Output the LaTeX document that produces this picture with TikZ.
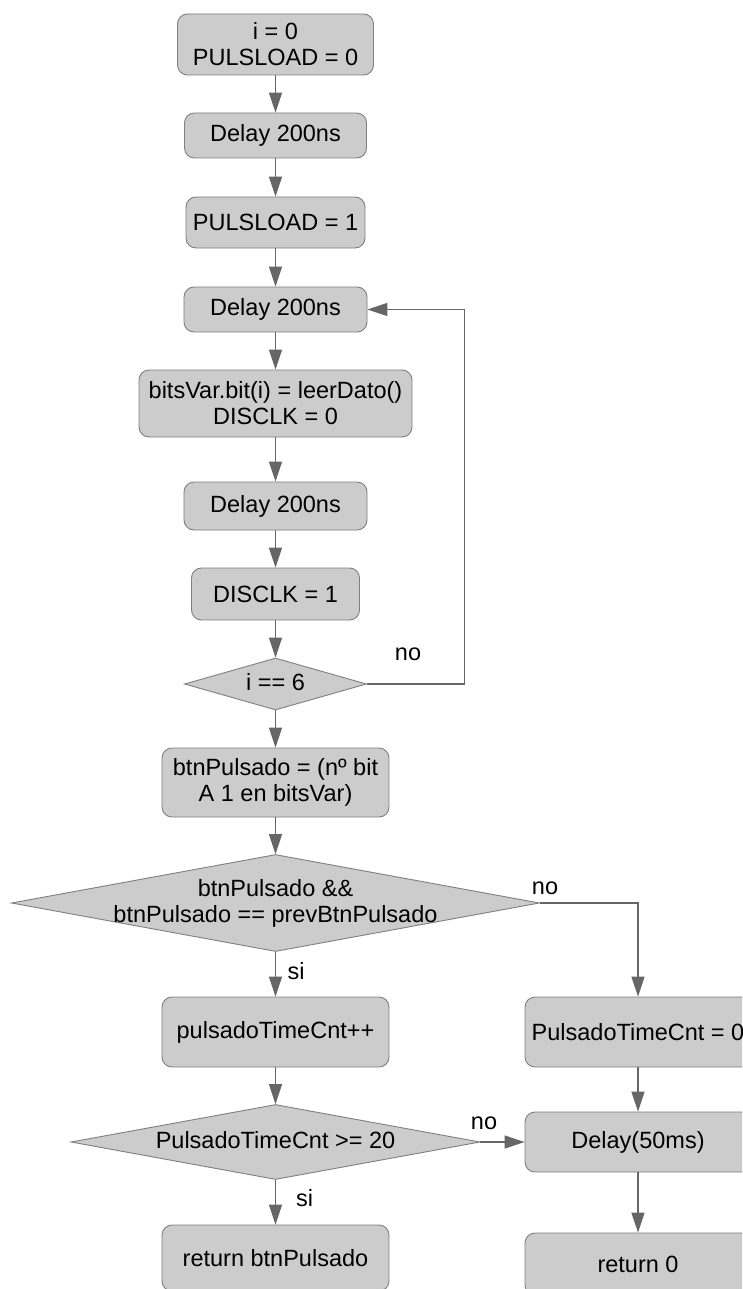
\documentclass[tikz,border=0pt]{standalone}
\usepackage{fontspec}
\setmainfont{Liberation Sans}
\usetikzlibrary{arrows.meta,shapes.geometric}
\definecolor{boxfill}{HTML}{CCCCCC}
\definecolor{boxline}{HTML}{7F7F7F}
\definecolor{flowline}{HTML}{666666}
% text that takes no room, so a diamond keeps the size it is given
\newcommand\centredtext[1]{\makebox[0pt]{\smash{\raisebox{-8pt}{\begin{tabular}{@{}c@{}}#1\end{tabular}}}}}
\begin{document}
\begin{tikzpicture}[x=1pt,y=-1pt,
  every node/.style={font=\fontsize{23.5}{26}\selectfont, text=black},
  proc/.style={draw=boxline, fill=boxfill, line width=0.9pt, rounded corners=10pt, align=center, inner sep=0pt},
  decision/.style={diamond, draw=boxline, fill=boxfill, line width=0.9pt, inner sep=0pt},
  flow/.style={draw=flowline, line width=1.2pt, -{Triangle[length=20pt,width=13pt]}},
  tag/.style={inner sep=0pt}
]
\clip (0,0) rectangle (742,1289);
\fill[white] (0,0) rectangle (742,1289);

% main column
\node[proc, minimum width=196pt, minimum height=61pt] (init) at (275.5,44.5) {i = 0\\PULSLOAD = 0};
\node[proc, minimum width=182pt, minimum height=45pt] (delay1) at (275.5,135.5) {Delay 200ns};
\node[proc, minimum width=179pt, minimum height=51pt] (load1) at (275.5,222.5) {PULSLOAD = 1};
\node[proc, minimum width=183pt, minimum height=45pt] (delay2) at (275.5,309.5) {Delay 200ns};
\node[proc, minimum width=273pt, minimum height=67pt] (read) at (275.5,403.5) {bitsVar.bit(i) = leerDato()\\DISCLK = 0};
\node[proc, minimum width=183pt, minimum height=48pt] (delay3) at (275.5,506) {Delay 200ns};
\node[proc, minimum width=168pt, minimum height=52pt] (clk1) at (275.5,594) {DISCLK = 1};
\node[decision, minimum width=182pt, minimum height=52pt] (chk) at (275.5,684) {\centredtext{i == 6}};
\node[proc, minimum width=227pt, minimum height=69pt] (count) at (275.5,782.5) {btnPulsado = (nº bit\\A 1 en bitsVar)};
\node[decision, minimum width=528pt, minimum height=97pt] (cond) at (275.5,903) {\centredtext{btnPulsado \&\&\\btnPulsado == prevBtnPulsado}};
\node[proc, minimum width=227pt, minimum height=70pt] (inc) at (275.5,1032) {pulsadoTimeCnt++};
\node[decision, minimum width=409pt, minimum height=75pt] (limit) at (275.5,1142) {\centredtext{PulsadoTimeCnt >= 20}};
\node[proc, minimum width=227pt, minimum height=66pt] (ret) at (275.5,1258) {return btnPulsado};

% right column
\node[proc, minimum width=226pt, minimum height=70pt] (reset) at (638,1032) {PulsadoTimeCnt = 0};
\node[proc, minimum width=226pt, minimum height=60pt] (wait) at (638,1142) {Delay(50ms)};
\node[proc, minimum width=226pt, minimum height=62pt] (ret0) at (638,1264) {return 0};

% connectors
\draw[flow] (init) -- (delay1);
\draw[flow] (delay1) -- (load1);
\draw[flow] (load1) -- (delay2);
\draw[flow] (delay2) -- (read);
\draw[flow] (read) -- (delay3);
\draw[flow] (delay3) -- (clk1);
\draw[flow] (clk1) -- (chk);
\draw[flow] (chk) -- (count);
\draw[flow] (count) -- (cond);
\draw[flow] (cond) -- (inc);
\draw[flow] (inc) -- (limit);
\draw[flow] (limit) -- (ret);
\draw[flow] (reset) -- (wait);
\draw[flow] (wait) -- (ret0);
\draw[flow] (limit.east) -- (wait.west);
\draw[flow] (chk.east) -- ++(97.5,0) |- (delay2.east);
\draw[flow] (cond.east) -| (reset.north);

% branch labels
\node[tag] (no1) at (408,654) {no};
\node[tag] (no2) at (545,888) {no};
\node[tag] (si1) at (296,971) {si};
\node[tag] (si2) at (304.5,1198) {si};
\node[tag] (no3) at (484,1123) {no};
\end{tikzpicture}
\end{document}
